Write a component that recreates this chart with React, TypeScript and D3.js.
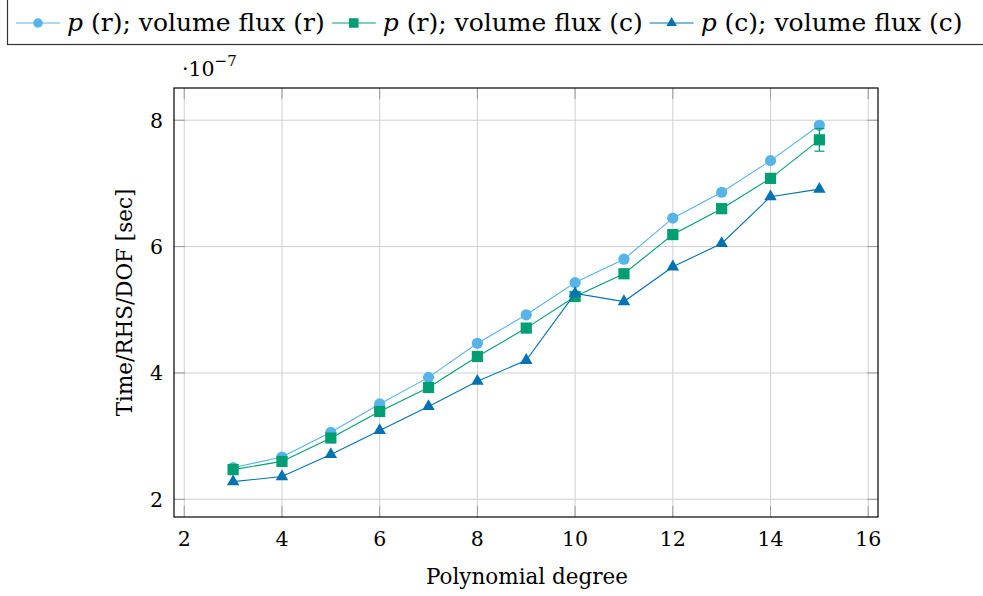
import { useRef, useEffect } from 'react';
import * as d3 from 'd3';

const degrees = [3, 4, 5, 6, 7, 8, 9, 10, 11, 12, 13, 14, 15];
const rrTimes = [2.5, 2.67, 3.06, 3.51, 3.93, 4.47, 4.92, 5.43, 5.8, 6.45, 6.86, 7.36, 7.92];
const rcTimes = [2.47, 2.6, 2.97, 3.39, 3.77, 4.26, 4.71, 5.21, 5.57, 6.19, 6.6, 7.08, 7.69];
const rcErrors = [0, 0, 0, 0, 0, 0, 0, 0, 0, 0, 0, 0, 0.18];
const ccTimes = [2.28, 2.36, 2.71, 3.09, 3.47, 3.87, 4.2, 5.26, 5.13, 5.68, 6.05, 6.79, 6.91];
const xTicks = [2, 4, 6, 8, 10, 12, 14, 16];
const yTicks = [2, 4, 6, 8];

const SERIES = [
  { name: '(r); volume flux (r)', values: rrTimes, errors: null, color: '#56b4e9', mark: 'circle' },
  { name: '(r); volume flux (c)', values: rcTimes, errors: rcErrors, color: '#009e73', mark: 'square' },
  { name: '(c); volume flux (c)', values: ccTimes, errors: null, color: '#0072b2', mark: 'triangle' },
];

const FONT = '"DejaVu Serif", serif';

function drawMark(g: any, kind: string, x: number, y: number, color: string) {
  if (kind === 'circle') {
    g.append('circle').attr('cx', x).attr('cy', y).attr('r', 5.6).attr('fill', color);
  } else if (kind === 'square') {
    g.append('rect').attr('x', x - 5.6).attr('y', y - 5.6).attr('width', 11.2).attr('height', 11.2).attr('fill', color);
  } else {
    const r = 7.2;
    const pts = [[x, y - r], [x - r * 0.866, y + r / 2], [x + r * 0.866, y + r / 2]];
    g.append('polygon').attr('points', pts.map(p => p.join(',')).join(' ')).attr('fill', color);
  }
}

export default function App() {
  const svgRef = useRef<SVGSVGElement>(null);

  useEffect(() => {
    document.body.style.margin = '0';
    if (!svgRef.current) return;
    const svg = d3.select(svgRef.current);
    svg.selectAll('*').remove();

    const left = 174, right = 878, top = 88, bottom = 517;
    const x = d3.scaleLinear().domain([1.79, 16.2]).range([left, right]);
    const y = d3.scaleLinear().domain([1.72, 8.51]).range([bottom, top]);

    // grid
    const grid = svg.append('g').attr('stroke', '#d0d0d0').attr('stroke-width', 1);
    xTicks.forEach(t => {
      grid.append('line').attr('x1', x(t)).attr('x2', x(t)).attr('y1', top).attr('y2', bottom);
    });
    yTicks.forEach(t => {
      grid.append('line').attr('x1', left).attr('x2', right).attr('y1', y(t)).attr('y2', y(t));
    });

    // tick marks on all four sides, pointing inward
    const tl = 11;
    const ticks = svg.append('g').attr('stroke', '#9a9a9a').attr('stroke-width', 1);
    xTicks.forEach(t => {
      ticks.append('line').attr('x1', x(t)).attr('x2', x(t)).attr('y1', bottom).attr('y2', bottom - tl);
      ticks.append('line').attr('x1', x(t)).attr('x2', x(t)).attr('y1', top).attr('y2', top + tl);
    });
    yTicks.forEach(t => {
      ticks.append('line').attr('x1', left).attr('x2', left + tl).attr('y1', y(t)).attr('y2', y(t));
      ticks.append('line').attr('x1', right).attr('x2', right - tl).attr('y1', y(t)).attr('y2', y(t));
    });

    svg.append('rect')
      .attr('x', left).attr('y', top).attr('width', right - left).attr('height', bottom - top)
      .attr('fill', 'none').attr('stroke', '#000').attr('stroke-width', 1.2);

    // tick labels
    xTicks.forEach(t => {
      svg.append('text').attr('x', x(t)).attr('y', 546).attr('text-anchor', 'middle')
        .attr('font-family', FONT).attr('font-size', 20.5).text(t);
    });
    yTicks.forEach(t => {
      svg.append('text').attr('x', 163).attr('y', y(t) + 7.5).attr('text-anchor', 'end')
        .attr('font-family', FONT).attr('font-size', 20.5).text(t);
    });

    const sci = svg.append('text').attr('x', 182).attr('y', 76)
      .attr('font-family', FONT).attr('font-size', 20.5);
    sci.append('tspan').text('·10');
    sci.append('tspan').attr('dy', -10).attr('font-size', 15).text('−7');

    svg.append('text').attr('x', 527).attr('y', 584).attr('text-anchor', 'middle')
      .attr('font-family', FONT).attr('font-size', 21.5).text('Polynomial degree');
    svg.append('text')
      .attr('transform', `translate(132,${(top + bottom) / 2}) rotate(-90)`)
      .attr('text-anchor', 'middle')
      .attr('font-family', FONT).attr('font-size', 21.5).text('Time/RHS/DOF [sec]');

    // series
    const line = d3.line<number>().x((d, i) => x(degrees[i])).y(d => y(d));
    SERIES.forEach(s => {
      const g = svg.append('g');
      g.append('path').attr('d', line(s.values)).attr('fill', 'none')
        .attr('stroke', s.color).attr('stroke-width', 1.1);
      if (s.errors) {
        s.errors.forEach((e, i) => {
          if (!e) return;
          const cx = x(degrees[i]);
          const y0 = y(s.values[i] - e), y1 = y(s.values[i] + e);
          g.append('line').attr('x1', cx).attr('x2', cx).attr('y1', y0).attr('y2', y1)
            .attr('stroke', s.color).attr('stroke-width', 1.2);
          [y0, y1].forEach(yy => g.append('line').attr('x1', cx - 5).attr('x2', cx + 5)
            .attr('y1', yy).attr('y2', yy).attr('stroke', s.color).attr('stroke-width', 1.2));
        });
      }
      s.values.forEach((v, i) => drawMark(g, s.mark, x(degrees[i]), y(v), s.color));
    });

    // legend
    const lg = svg.append('g');
    lg.append('rect').attr('x', 7.5).attr('y', -10).attr('width', 1000).attr('height', 54.5)
      .attr('fill', '#fff').attr('stroke', '#333').attr('stroke-width', 1.2);
    let cx = 16;
    const ly = 23;
    SERIES.forEach(s => {
      lg.append('line').attr('x1', cx).attr('x2', cx + 44).attr('y1', ly).attr('y2', ly)
        .attr('stroke', s.color).attr('stroke-width', 1.1);
      const m = lg.append('g');
      m.attr('transform', `translate(${cx + 22},${ly}) scale(0.85)`);
      drawMark(m, s.mark, 0, 0, s.color);
      const t = lg.append('text').attr('x', cx + 51).attr('y', ly + 8)
        .attr('font-family', FONT).attr('font-size', 25);
      t.append('tspan').attr('font-style', 'italic').text('p');
      t.append('tspan').text(' ' + s.name);
      const w = (t.node() as SVGTextElement).getComputedTextLength();
      cx = cx + 51 + w + 7;
    });
  }, []);

  return <svg ref={svgRef} width={983} height={596} style={{ display: 'block', background: '#fff' }} />;
}
